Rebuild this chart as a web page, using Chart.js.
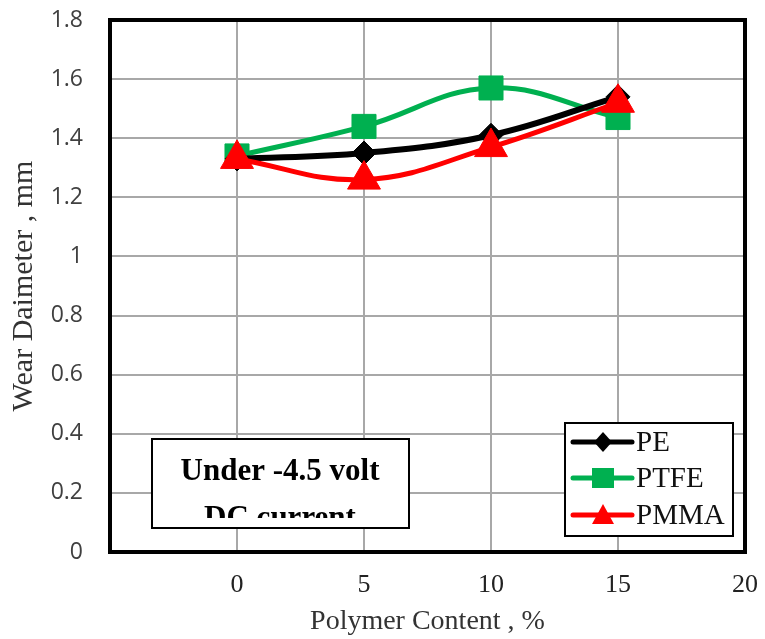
<!DOCTYPE html>
<html>
<head>
<meta charset="utf-8">
<script src="https://cdn.jsdelivr.net/npm/chart.js@4.4.1/dist/chart.umd.min.js"></script>
<style>
  html, body { margin: 0; padding: 0; background: #fff; }
</style>
</head>
<body>
<canvas id="chart" width="765" height="639"></canvas>
<script>
// values
const contents = [0, 5, 10, 15];
const pe = [1.33, 1.35, 1.41, 1.54];
const ptfe = [1.34, 1.44, 1.57, 1.47];
const pmma = [1.33, 1.26, 1.37, 1.52];
const seriesNames = ['PE', 'PTFE', 'PMMA'];
const noteLines = ['Under -4.5 volt', 'DC current'];

const pts = (vals) => contents.map((x, i) => ({ x: x, y: vals[i] }));

// kill the automatic label overflow padding so the plot box lands where it should
const noPad = (s) => {
  s.paddingTop = 0; s.paddingBottom = 0; s.paddingLeft = 0; s.paddingRight = 0;
};

// little legend + note box + thick frame, drawn on top of the grid
const boxes = {
  id: 'boxes',
  afterDatasetsDraw(chart) {
    const ctx = chart.ctx;
    const a = chart.chartArea;
    ctx.save();

    // frame
    ctx.strokeStyle = '#000';
    ctx.lineWidth = 4;
    ctx.strokeRect(a.left, a.top, a.right - a.left, a.bottom - a.top);

    // note box
    ctx.fillStyle = '#fff';
    ctx.fillRect(152, 439, 257, 89);
    ctx.lineWidth = 2;
    ctx.strokeRect(152, 439, 257, 89);
    ctx.save();
    ctx.beginPath();
    ctx.rect(154, 441, 253, 77);
    ctx.clip();
    ctx.fillStyle = '#000';
    ctx.font = 'bold 31px "Liberation Serif"';
    ctx.textAlign = 'center';
    ctx.textBaseline = 'alphabetic';
    ctx.fillText(noteLines[0], 280, 480);
    ctx.fillText(noteLines[1], 280, 527);
    ctx.restore();

    // legend
    ctx.fillStyle = '#fff';
    ctx.fillRect(565, 423, 168, 113);
    ctx.strokeStyle = '#000';
    ctx.lineWidth = 2;
    ctx.strokeRect(565, 423, 168, 113);
    const rows = [442, 478, 515];
    chart.data.datasets.forEach((ds, i) => {
      const y = rows[i];
      ctx.strokeStyle = ds.borderColor;
      ctx.lineWidth = 5;
      ctx.lineCap = 'round';
      ctx.beginPath();
      ctx.moveTo(573, y);
      ctx.lineTo(632, y);
      ctx.stroke();
      ctx.fillStyle = ds.borderColor;
      ctx.beginPath();
      if (ds.pointStyle === 'rectRot') {
        ctx.moveTo(603, y - 10); ctx.lineTo(612, y); ctx.lineTo(603, y + 10); ctx.lineTo(594, y);
      } else if (ds.pointStyle === 'rect') {
        ctx.rect(592, y - 10, 22, 20);
      } else {
        ctx.moveTo(603, y - 11); ctx.lineTo(614, y + 9); ctx.lineTo(592, y + 9);
      }
      ctx.closePath();
      ctx.fill();
      ctx.fillStyle = '#111';
      ctx.font = '29px "Liberation Serif"';
      ctx.textAlign = 'left';
      ctx.textBaseline = 'middle';
      ctx.fillText(ds.label, 636, y + 1);
    });
    ctx.restore();
  }
};

Chart.defaults.font.family = '"Liberation Serif", "Times New Roman", serif';
Chart.defaults.color = '#333';

new Chart(document.querySelector('#chart').getContext('2d'), {
  type: 'line',
  data: {
    datasets: [
      {
        label: seriesNames[0],
        data: pts(pe),
        borderColor: '#000000',
        backgroundColor: '#000000',
        borderWidth: 6,
        pointStyle: 'rectRot',
        pointRadius: 12,
        pointBorderWidth: 1,
        tension: 0.4,
        order: 1
      },
      {
        label: seriesNames[1],
        data: pts(ptfe),
        borderColor: '#00b050',
        backgroundColor: '#00b050',
        borderWidth: 5,
        pointStyle: 'rect',
        pointRadius: 17,
        pointBorderWidth: 1,
        tension: 0.4,
        order: 2
      },
      {
        label: seriesNames[2],
        data: pts(pmma),
        borderColor: '#ff0000',
        backgroundColor: '#ff0000',
        borderWidth: 5,
        pointStyle: 'triangle',
        pointRadius: 19,
        pointBorderWidth: 1,
        tension: 0.4,
        order: 0
      }
    ]
  },
  options: {
    responsive: false,
    animation: false,
    clip: false,
    layout: { padding: { top: 17, right: 20, left: 0, bottom: 0 } },
    plugins: {
      legend: { display: false },
      tooltip: { enabled: false }
    },
    scales: {
      x: {
        type: 'linear',
        min: -5,
        max: 20,
        afterFit: (s) => { s.height = 87; noPad(s); },
        ticks: {
          stepSize: 5,
          padding: 18,
          color: '#222',
          font: { size: 26 },
          callback: (v) => (v < 0 ? '' : v)
        },
        grid: { color: '#a8a8a8', lineWidth: 2, drawTicks: false },
        border: { display: false },
        title: {
          display: true,
          text: 'Polymer Content , %',
          color: '#333',
          font: { size: 28 },
          padding: { top: 0, bottom: 1 }
        }
      },
      y: {
        min: 0,
        max: 1.8,
        afterFit: (s) => { s.width = 110; noPad(s); },
        ticks: {
          stepSize: 0.2,
          padding: 27,
          color: '#404040',
          font: { family: '"Open Sans", sans-serif', size: 23 },
          callback: (v) => Math.round(v * 10) / 10
        },
        grid: { color: '#a8a8a8', lineWidth: 2, drawTicks: false },
        border: { display: false },
        title: {
          display: true,
          text: 'Wear Daimeter , mm',
          color: '#333',
          font: { size: 30 },
          padding: { top: 6, bottom: 0 }
        }
      }
    }
  },
  plugins: [boxes]
});
</script>
</body>
</html>
